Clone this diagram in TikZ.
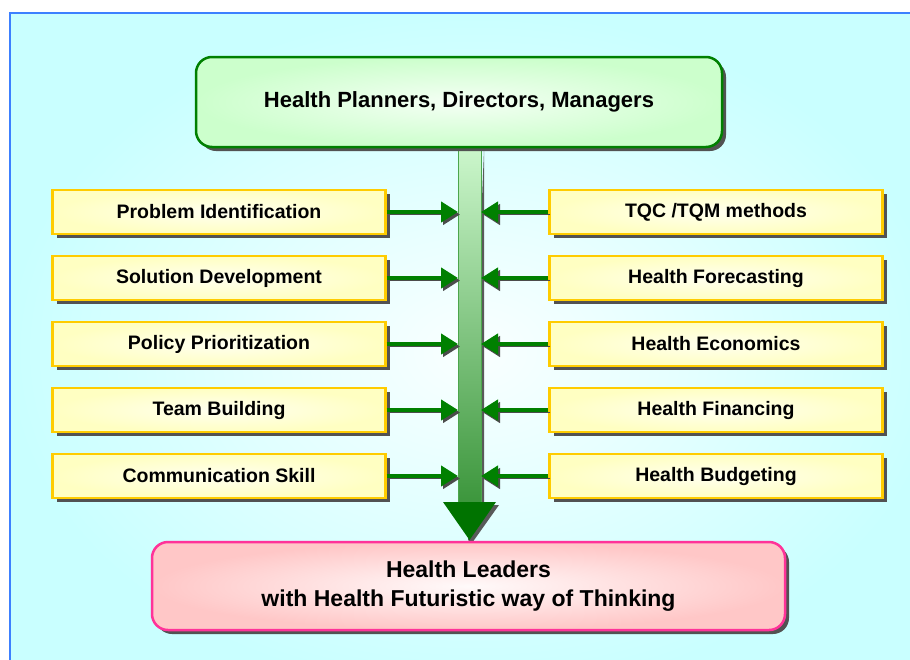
\documentclass[tikz,border=0pt]{standalone}
\usepackage{fontspec}
\setmainfont{Liberation Sans}
\usetikzlibrary{arrows.meta,shadows}
\definecolor{frameblue}{HTML}{3C80FF}
\definecolor{boxgold}{HTML}{FFCC00}
\definecolor{darkgreen}{HTML}{008000}
\definecolor{leadpink}{HTML}{FF3399}
\definecolor{shafttop}{HTML}{CCF7CC}
\definecolor{shaftbot}{HTML}{3C963C}
\begin{document}
\begin{tikzpicture}[x=1pt,y=-1pt,
  shadowed/.style={drop shadow={shadow xshift=4pt,shadow yshift=-4pt,fill=black!68,opacity=1}},
  topic/.style={draw=boxgold,line width=2.2pt,inner color=yellow!6,outer color=yellow!24,
    minimum width=333pt,minimum height=44pt,font=\fontsize{19.5}{22}\selectfont\bfseries,shadowed},
  head/.style={draw=darkgreen,line width=2.5pt,rounded corners=16pt,inner color=green!4,outer color=green!20,
    minimum width=526pt,minimum height=90pt,font=\fontsize{22}{26}\selectfont\bfseries,shadowed},
  goal/.style={draw=leadpink,line width=2.5pt,rounded corners=16pt,inner color=red!2,outer color=red!22,
    minimum width=633pt,minimum height=88pt,align=center,font=\fontsize{23}{29}\selectfont\bfseries,shadowed},
  arr/.style={draw=darkgreen,line width=4.5pt,-{Triangle[length=17pt,width=20pt]},
    preaction={draw=black!70,transform canvas={shift={(2pt,-2.5pt)}}}}]
    \useasboundingbox (0,0) rectangle (910,659);
    % background and frame
    \shade[inner color=cyan!2,outer color=cyan!21] (10,13) rectangle (940,690);
    \draw[frameblue,line width=2pt] (10,690) -- (10,13) -- (940,13);

    % main shaft
    \fill[black!65] (484,150) -- (484,505) -- (499,505) -- (472,543) -- (468,540) -- cycle;
    \shade[top color=shafttop,bottom color=shaftbot,draw=darkgreen!70,line width=0.6pt] (458,147) rectangle (481,503);
    \fill[darkgreen!90!black] (458,502) -- (481,502) -- (496,502) -- (469.5,540) -- (443,502) -- cycle;
    \coordinate (sl) at (458,300);
    \coordinate (sr) at (481,300);

    \node[head] (top) at (459,102) {Health Planners, Directors, Managers};
    \node[goal] (lead) at (468.5,586) {Health Leaders\\with Health Futuristic way of Thinking};

    \node[topic] (a1) at (219,212) {Problem Identification};
    \node[topic] (a2) at (219,278) {Solution Development};
    \node[topic] (a3) at (219,344) {Policy Prioritization};
    \node[topic] (a4) at (219,410) {Team Building};
    \node[topic] (a5) at (219,476) {Communication Skill};

    \node[topic] (b1) at (716,212) {TQC /TQM methods};
    \node[topic] (b2) at (716,278) {Health Forecasting};
    \node[topic] (b3) at (716,344) {Health Economics};
    \node[topic] (b4) at (716,410) {Health Financing};
    \node[topic] (b5) at (716,476) {Health Budgeting};

    \draw[arr] (a1.east) -- (a1.east -| sl);
    \draw[arr] (a2.east) -- (a2.east -| sl);
    \draw[arr] (a3.east) -- (a3.east -| sl);
    \draw[arr] (a4.east) -- (a4.east -| sl);
    \draw[arr] (a5.east) -- (a5.east -| sl);
    \draw[arr] (b1.west) -- (b1.west -| sr);
    \draw[arr] (b2.west) -- (b2.west -| sr);
    \draw[arr] (b3.west) -- (b3.west -| sr);
    \draw[arr] (b4.west) -- (b4.west -| sr);
    \draw[arr] (b5.west) -- (b5.west -| sr);
\end{tikzpicture}
\end{document}
